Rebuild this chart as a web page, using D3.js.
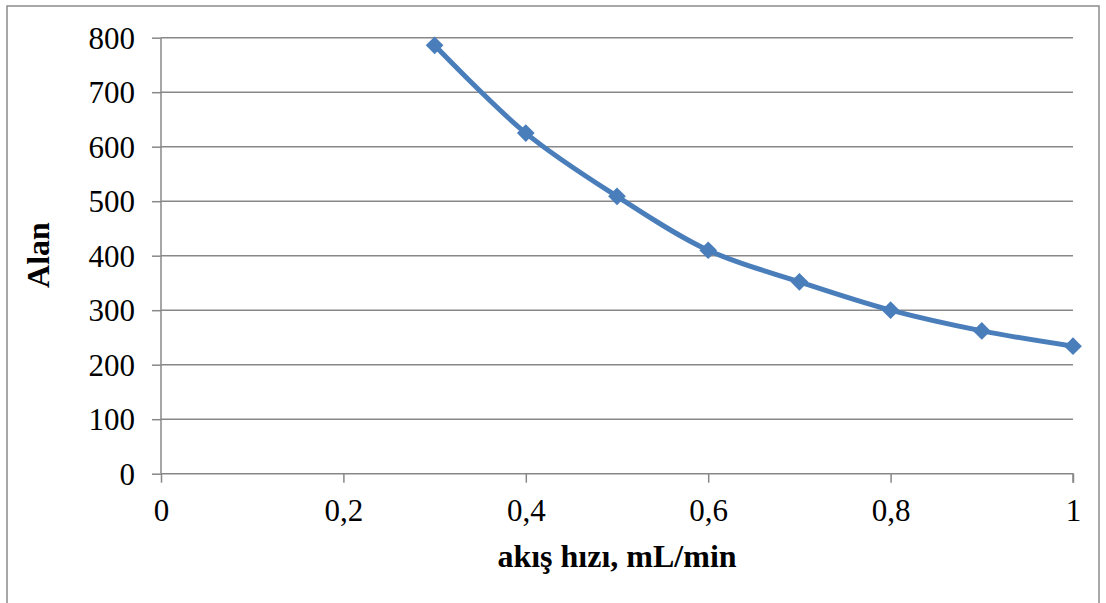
<!DOCTYPE html>
<html><head><meta charset="utf-8">
<script src="https://cdn.jsdelivr.net/npm/d3@7"></script>
<style>body{margin:0;background:#fff}svg{display:block}</style>
</head><body>
<script>
const flowRates = [0.3, 0.4, 0.5, 0.6, 0.7, 0.8, 0.9, 1.0];
const areas = [786, 625, 509, 410, 352, 300, 262, 234];
const xTicks = [0, 0.2, 0.4, 0.6, 0.8, 1];
const yTicks = [0, 100, 200, 300, 400, 500, 600, 700, 800];
const xTitle = "akış hızı, mL/min";
const yTitle = "Alan";

const W = 1106, H = 603;
const svg = d3.select("body").append("svg").attr("width", W).attr("height", H);
svg.append("rect").attr("x", 7).attr("y", 6).attr("width", 1092).attr("height", 610)
  .attr("fill", "#fff").attr("stroke", "#8c8c8c").attr("stroke-width", 1.5);

const x = d3.scaleLinear().domain([0, 1]).range([161, 1073]);
const y = d3.scaleLinear().domain([0, 800]).range([473.7, 37.7]);
const font = "'Liberation Serif','Times New Roman',serif";
const grid = "#888888";

svg.append("g").selectAll("line").data(yTicks.filter(d => d > 0)).join("line")
  .attr("x1", x(0)).attr("x2", x(1)).attr("y1", d => y(d)).attr("y2", d => y(d))
  .attr("stroke", grid).attr("stroke-width", 1.5);

const yAxis = svg.append("g").attr("transform", `translate(${x(0)},0)`)
  .call(d3.axisLeft(y).tickValues(yTicks).tickSize(9).tickPadding(17).tickFormat(d3.format("d")));
const xAxis = svg.append("g").attr("transform", `translate(0,${y(0)})`)
  .call(d3.axisBottom(x).tickValues(xTicks).tickSize(9).tickPadding(16)
    .tickFormat(d => d3.format("")(d).replace(".", ",")));
[yAxis, xAxis].forEach(g => {
  g.select(".domain").attr("stroke", grid).attr("stroke-width", 1.5);
  g.selectAll(".tick line").attr("stroke", grid).attr("stroke-width", 1.5);
  g.selectAll("text").attr("font-family", font).attr("font-size", 31).attr("fill", "#000");
});
yAxis.selectAll("text").attr("dy", "0.34em");
xAxis.select(".domain").attr("d", `M${x(0)},0H${x(1)}V9`);
yAxis.select(".domain").attr("d", `M0,${y(0)}V${y(800)}`);

const pts = flowRates.map((f, i) => [f, areas[i]]);
svg.append("path").datum(pts)
  .attr("d", d3.line().x(d => x(d[0])).y(d => y(d[1])).curve(d3.curveCatmullRom.alpha(0.5)))
  .attr("fill", "none").attr("stroke", "#4a7ebb").attr("stroke-width", 5);
svg.append("g").selectAll("path").data(pts).join("path")
  .attr("transform", d => `translate(${x(d[0])},${y(d[1])})`)
  .attr("d", d3.symbol(d3.symbolDiamond2, 200))
  .attr("fill", "#4a7ebb");

svg.append("text").attr("x", 617).attr("y", 567).attr("text-anchor", "middle")
  .attr("font-family", font).attr("font-weight", "bold").attr("font-size", 32).text(xTitle);
svg.append("text").attr("transform", "translate(49,255) rotate(-90)").attr("text-anchor", "middle")
  .attr("font-family", font).attr("font-weight", "bold").attr("font-size", 32).text(yTitle);
</script>
</body></html>
